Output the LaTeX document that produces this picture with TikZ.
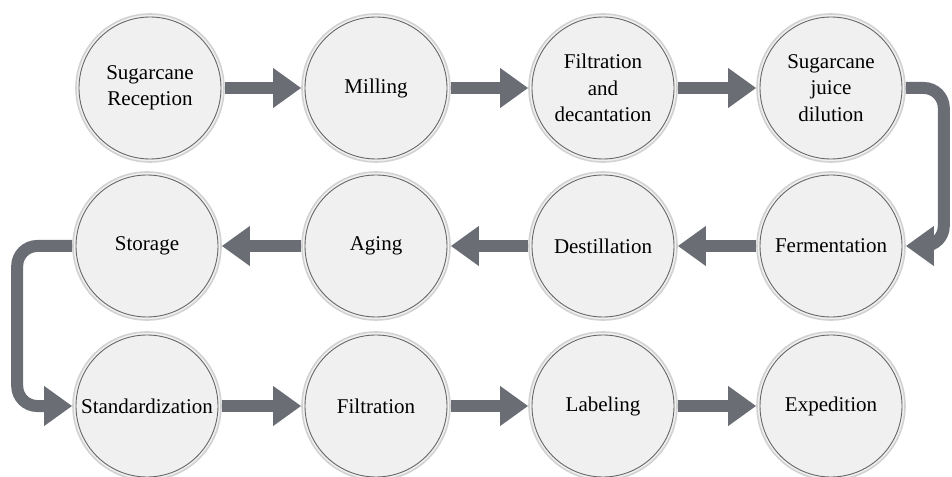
\documentclass[tikz,border=0pt]{standalone}
\usepackage{fontspec}
\setmainfont{Liberation Serif}
\usetikzlibrary{arrows.meta, positioning}
\definecolor{flowgray}{RGB}{106,110,116}

\tikzset{
  stage/.style={circle, minimum size=148bp, inner sep=0pt, align=center,
    fill=gray!12, draw=gray!35, line width=1.6bp,
    path picture={\draw[black!60, line width=0.9bp] (path picture bounding box.center) circle (71bp);}},
  flow/.style={draw=flowgray, line width=12bp, -{Triangle[width=38bp, length=28bp]}}
}

\begin{document}
\begin{tikzpicture}[x=1bp, y=-1bp, font=\fontsize{21bp}{26.5bp}\selectfont]
    \useasboundingbox (0,0) rectangle (952,477);
    % first row
    \node[stage] (reception) at (150,88) {Sugarcane\\Reception};
    \node[stage] (milling) at (376,88) {Milling};
    \node[stage] (filtration) at (603,88) {Filtration\\and\\decantation};
    \node[stage] (dilution) at (831,88) {Sugarcane\\juice\\dilution};
    % second row
    \node[stage] (fermentation) at (831,246) {Fermentation};
    \node[stage] (destillation) at (603,246) {Destillation};
    \node[stage] (aging) at (376,246) {Aging};
    \node[stage] (storage) at (147,246) {Storage};
    % third row
    \node[stage] (standard) at (147,406) {Standardization};
    \node[stage] (filtr2) at (376,406) {Filtration};
    \node[stage] (labeling) at (603,406) {Labeling};
    \node[stage] (expedition) at (831,406) {Expedition};

    \draw[flow] (reception) -- (milling);
    \draw[flow] (milling) -- (filtration);
    \draw[flow] (filtration) -- (dilution);
    \draw[flow, rounded corners=20bp] (dilution.east) -- ++(38,0) |- (fermentation.east);
    \draw[flow] (fermentation) -- (destillation);
    \draw[flow] (destillation) -- (aging);
    \draw[flow] (aging) -- (storage);
    \draw[flow, rounded corners=20bp] (storage.west) -- ++(-55,0) |- (standard.west);
    \draw[flow] (standard) -- (filtr2);
    \draw[flow] (filtr2) -- (labeling);
    \draw[flow] (labeling) -- (expedition);
\end{tikzpicture}
\end{document}
